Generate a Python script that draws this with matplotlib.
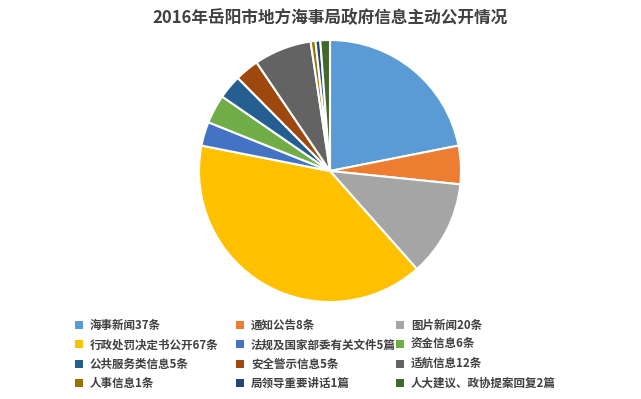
import matplotlib
matplotlib.use('Agg')
import matplotlib.pyplot as plt
from matplotlib.patches import Patch

plt.rcParams['font.family'] = ['Noto Sans CJK SC', 'DejaVu Sans']

labels = ['海事新闻37条', '通知公告8条', '图片新闻20条',
          '行政处罚决定书公开67条', '法规及国家部委有关文件5篇', '资金信息6条',
          '公共服务类信息5条', '安全警示信息5条', '适航信息12条',
          '人事信息1条', '局领导重要讲话1篇', '人大建议、政协提案回复2篇']
values = [37, 8, 20, 67, 5, 6, 5, 5, 12, 1, 1, 2]
colors = ['#5B9BD5', '#ED7D31', '#A5A5A5', '#FFC000', '#4472C4', '#70AD47',
          '#255E91', '#9E480E', '#636363', '#997300', '#264478', '#43682B']

W, H = 641, 399
fig = plt.figure(figsize=(W / 100, H / 100), dpi=100)

# pie: centre ~(330,171), radius ~131 px
cx, cy, r = 330, 171, 131
ax = fig.add_axes([(cx - r) / W, (H - cy - r) / H, 2 * r / W, 2 * r / H])
ax.pie(values, colors=colors, startangle=90, counterclock=False,
       wedgeprops=dict(edgecolor='white', linewidth=1.5))
ax.set_xlim(-1, 1)
ax.set_ylim(-1, 1)
ax.set_aspect('equal')

fig.text(cx / W, 1 - 18 / H, '2016年岳阳市地方海事局政府信息主动公开情况',
         ha='center', va='center', fontsize=12, fontweight='bold', color='#404040')

# legend: three columns, filled row by row
col_x = [75, 236, 396]
for c in range(3):
    idx = list(range(c, len(labels), 3))
    handles = [Patch(facecolor=colors[i], edgecolor='none') for i in idx]
    leg = fig.legend(handles, [labels[i] for i in idx],
                     loc='upper left', bbox_to_anchor=(col_x[c] / W, 1 - 319 / H),
                     frameon=False, fontsize=8.3, handlelength=0.7, handleheight=0.7,
                     handletextpad=0.6, labelspacing=0.55, borderpad=0,
                     borderaxespad=0)
    for t in leg.get_texts():
        t.set_color('#404040')
        t.set_fontweight('bold')

fig.savefig('out.png', dpi=100)
